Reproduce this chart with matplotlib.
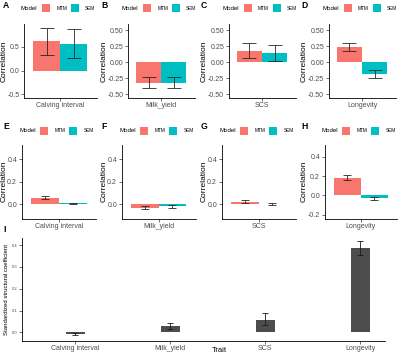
import matplotlib
matplotlib.use("Agg")
import matplotlib.pyplot as plt
from matplotlib.patches import Rectangle
import numpy as np

plt.rcParams['font.family'] = ['Liberation Sans', 'DejaVu Sans']

# ---------------- data ----------------
traits = ["Calving interval", "Milk_yield", "SCS", "Longevity"]
models = ["MTM", "SEM"]
letters_top = ["A", "B", "C", "D"]
letters_mid = ["E", "F", "G", "H"]

# Row 1 (A-D): correlations
r1_mtm = [0.61, -0.325, 0.18, 0.23]
r1_mtm_lo = [0.335, -0.405, 0.065, 0.17]
r1_mtm_hi = [0.885, -0.235, 0.30, 0.30]
r1_sem = [0.56, -0.315, 0.14, -0.175]
r1_sem_lo = [0.265, -0.405, 0.02, -0.245]
r1_sem_hi = [0.865, -0.23, 0.265, -0.115]

# Row 2 (E-H): correlations
r2_mtm = [0.058, -0.03, 0.022, 0.185]
r2_mtm_lo = [0.045, -0.042, 0.014, 0.16]
r2_mtm_hi = [0.071, -0.018, 0.034, 0.21]
r2_sem = [0.006, -0.018, 0.004, -0.03]
r2_sem_lo = [0.002, -0.03, -0.004, -0.045]
r2_sem_hi = [0.010, -0.006, 0.012, -0.015]

# Panel I: standardized structural coefficients
coef = [-0.008, 0.028, 0.058, 0.385]
coef_lo = [-0.012, 0.016, 0.034, 0.355]
coef_hi = [-0.004, 0.041, 0.088, 0.42]

r1_yticks = [[-0.5, 0.0, 0.5], [-0.5, -0.25, 0.0, 0.25, 0.5],
             [-0.5, -0.25, 0.0, 0.25, 0.5], [-0.5, -0.25, 0.0, 0.25, 0.5]]
r2_yticks = [[0.0, 0.2, 0.4], [0.0, 0.2, 0.4], [0.0, 0.2, 0.4], [-0.2, 0.0, 0.2, 0.4]]
i_yticks = [0.0, 0.1, 0.2, 0.3, 0.4]

# ---------------- style ----------------
C_MTM = "#F8766D"
C_SEM = "#00BFC4"
C_I = "#4D4D4D"
TICK_COL = "#4D4D4D"
W, H = 400, 356

fig = plt.figure(figsize=(4.0, 3.56), dpi=100)


def add_ax(x0, x1, ytop, ybot):
    return fig.add_axes([x0 / W, 1 - ybot / H, (x1 - x0) / W, (ybot - ytop) / H])


def style(ax, tick_fs=5.0):
    for s in ["top", "right"]:
        ax.spines[s].set_visible(False)
    for s in ["left", "bottom"]:
        ax.spines[s].set_linewidth(0.6)
        ax.spines[s].set_color("black")
    ax.tick_params(axis="both", length=2, width=0.5, color="#333333",
                   labelsize=tick_fs, labelcolor=TICK_COL, pad=1.2)


def fmt(v, nd):
    return f"{v:.{nd}f}"


def legend(cx, cy):
    L = cx - 36.5
    fig.text(L / W, 1 - cy / H, "Model", fontsize=4.4, va="center", ha="left", color="black")
    for off, col, lab in [(21, C_MTM, "MTM"), (50, C_SEM, "SEM")]:
        fig.add_artist(Rectangle(((L + off) / W, 1 - (cy + 4) / H), 8 / W, 8 / H,
                                 transform=fig.transFigure, facecolor=col, edgecolor="none"))
        fig.text((L + off + 14.5) / W, 1 - cy / H, lab, fontsize=3.4, va="center",
                 ha="left", color="black")


def dodge_panel(ax, i, m, mlo, mhi, s, slo, shi, ylim, yticks, nd, capsize, ylab_x):
    w = 0.45
    xs = [1 - w / 2, 1 + w / 2]
    vals = [m[i], s[i]]
    lo = [mlo[i], slo[i]]
    hi = [mhi[i], shi[i]]
    ax.bar(xs, vals, width=w, color=[C_MTM, C_SEM], zorder=2)
    yerr = np.array([[v - l for v, l in zip(vals, lo)], [h - v for v, h in zip(vals, hi)]])
    ax.errorbar(xs, vals, yerr=yerr, fmt="none", ecolor="#262626", elinewidth=0.6,
                capsize=capsize, capthick=0.6, zorder=3)
    ax.set_xlim(0.4, 1.6)
    ax.set_ylim(*ylim)
    ax.set_xticks([1])
    ax.set_xticklabels([traits[i]])
    ax.set_yticks(yticks)
    ax.set_yticklabels([fmt(t, nd) for t in yticks])
    ax.set_ylabel("Correlation", fontsize=6.0)
    ax.yaxis.set_label_coords((ylab_x + 3.5) / W, 0.5)
    ax.yaxis.label.set_transform(
        matplotlib.transforms.blended_transform_factory(fig.transFigure, ax.transAxes))
    style(ax)


# ---------------- row 1 ----------------
r1_x = [(24, 96.5), (128, 194.5), (228.5, 295.5), (328.5, 395.5)]
r1_ylims = [(-0.57, 0.97), (-0.55, 0.59), (-0.55, 0.59), (-0.55, 0.59)]
r1_nd = [1, 2, 2, 2]
letter_x = [3, 101, 201, 301]
ylab_x = [4.5, 104.5, 204.5, 304.5]
for i in range(4):
    ax = add_ax(r1_x[i][0], r1_x[i][1], 24.3, 97.7)
    dodge_panel(ax, i, r1_mtm, r1_mtm_lo, r1_mtm_hi, r1_sem, r1_sem_lo, r1_sem_hi,
                r1_ylims[i], r1_yticks[i], r1_nd[i], 4.9, ylab_x[i])
    legend((r1_x[i][0] + r1_x[i][1]) / 2 - 3, 8)
    fig.text(letter_x[i] / W, 1 - 5.3 / H, letters_top[i], fontsize=6.2, fontweight="bold",
             va="center", ha="left")

# ---------------- row 2 ----------------
r2_x = [(21.5, 96), (121.5, 195.5), (221.5, 295.5), (324.5, 396.5)]
r2_ylims = [(-0.128, 0.528), (-0.128, 0.528), (-0.128, 0.528), (-0.237, 0.52)]
for i in range(4):
    ax = add_ax(r2_x[i][0], r2_x[i][1], 145, 218.5)
    dodge_panel(ax, i, r2_mtm, r2_mtm_lo, r2_mtm_hi, r2_sem, r2_sem_lo, r2_sem_hi,
                r2_ylims[i], r2_yticks[i], 1, 3.2, ylab_x[i])
    legend((r2_x[i][0] + r2_x[i][1]) / 2 - 3, 131)
    fig.text(letter_x[i] / W, 1 - 127 / H, letters_mid[i], fontsize=6.2, fontweight="bold",
             va="center", ha="left")

# ---------------- panel I ----------------
axI = add_ax(22, 385, 237.7, 340.7)
xi = np.arange(1, len(traits) + 1)
axI.bar(xi, coef, width=0.2, color=C_I, zorder=2)
yerrI = np.array([[c - l for c, l in zip(coef, coef_lo)], [h - c for c, h in zip(coef, coef_hi)]])
axI.errorbar(xi, coef, yerr=yerrI, fmt="none", ecolor="#1a1a1a", elinewidth=0.6,
             capsize=2.4, capthick=0.6, zorder=3)
axI.set_xlim(0.44, 4.26)
axI.set_ylim(-0.0385, 0.434)
axI.set_xticks(xi)
axI.set_xticklabels(traits)
axI.set_yticks(i_yticks)
axI.set_yticklabels([fmt(t, 1) for t in i_yticks])
style(axI)
axI.tick_params(axis="y", labelsize=3.0)
axI.tick_params(axis="x", labelsize=5.0)
axI.set_ylabel("Standardized structural coefficient", fontsize=4.3, labelpad=2)
fig.text(219 / W, 1 - 350 / H, "Trait", fontsize=5.4, va="center", ha="center")
fig.text(3 / W, 1 - 229 / H, "I", fontsize=6.2, fontweight="bold", va="center", ha="left")

fig.savefig("out.png", dpi=100)
